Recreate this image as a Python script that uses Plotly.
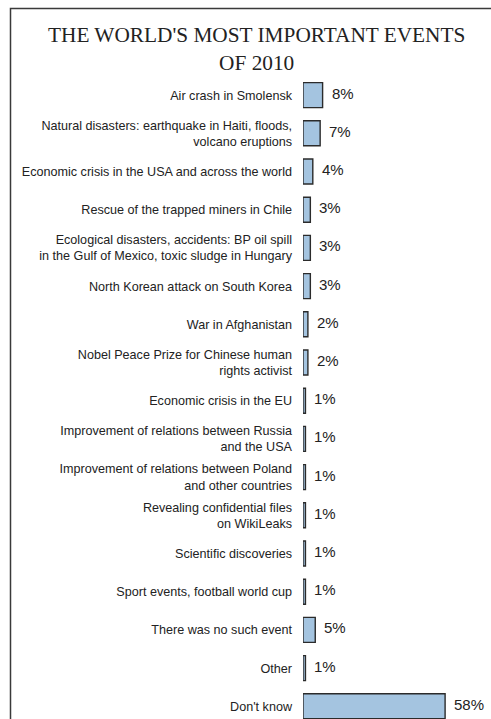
import plotly.graph_objects as go

# Survey answers (top to bottom) and their shares in percent
categories = [
    "Air crash in Smolensk",
    "Natural disasters: earthquake in Haiti, floods,<br>volcano eruptions",
    "Economic crisis in the USA and across the world",
    "Rescue of the trapped miners in Chile",
    "Ecological disasters, accidents: BP oil spill<br>in the Gulf of Mexico, toxic sludge in Hungary",
    "North Korean attack on South Korea",
    "War in Afghanistan",
    "Nobel Peace Prize for Chinese human<br>rights activist",
    "Economic crisis in the EU",
    "Improvement of relations between Russia<br>and the USA",
    "Improvement of relations between Poland<br>and other countries",
    "Revealing confidential files<br>on WikiLeaks",
    "Scientific discoveries",
    "Sport events, football world cup",
    "There was no such event",
    "Other",
    "Don't know",
]
shares = [8, 7, 4, 3, 3, 3, 2, 2, 1, 1, 1, 1, 1, 1, 5, 1, 58]
value_labels = [f"{v}%" for v in shares]

title_text = "THE WORLD'S MOST IMPORTANT EVENTS<br>OF 2010"

W, H = 491, 719
ML, MR, MT, MB = 303, 0, 76, 0
PW, PH = W - ML - MR, H - MT - MB


def px_x(x):
    return (x - ML) / PW


def px_y(y):
    return (H - MB - y) / PH


n = len(categories)
rows_visible = PH / 38.2

fig = go.Figure()
fig.add_trace(go.Bar(
    x=shares,
    y=categories,
    orientation="h",
    width=0.655,
    marker=dict(color="#a4c4e0", line=dict(color="#2b2b2b", width=1.4)),
    hoverinfo="skip",
))

annotations = []
for cat, v, lab in zip(categories, shares, value_labels):
    annotations.append(dict(
        x=v, y=cat, xref="x", yref="y", text=lab, showarrow=False,
        xanchor="left", yanchor="middle", xshift=7, yshift=2,
        font=dict(family="Liberation Sans, Arial", size=15, color="#222"),
    ))

annotations.append(dict(
    x=px_x(256), y=px_y(49), xref="paper", yref="paper",
    text=title_text, showarrow=False, xanchor="center", yanchor="middle",
    font=dict(family="Liberation Serif, Times New Roman", size=21.3, color="#222"),
))

fig.update_layout(
    width=W, height=H,
    margin=dict(l=ML, r=MR, t=MT, b=MB, pad=0),
    paper_bgcolor="white", plot_bgcolor="white",
    showlegend=False,
    annotations=annotations,
    shapes=[dict(
        type="rect", xref="paper", yref="paper",
        x0=px_x(10.5), x1=px_x(W + 20), y0=px_y(8.5), y1=px_y(H + 20),
        line=dict(color="#3a3a3a", width=1.5), fillcolor="rgba(0,0,0,0)",
        layer="below",
    )],
    xaxis=dict(visible=False, range=[0, PW / 2.45]),
    yaxis=dict(
        type="category", categoryorder="array", categoryarray=categories,
        range=[rows_visible - 0.5, -0.5],
        showgrid=False, zeroline=False, showline=False, ticks="",
        ticklabelstandoff=10,
        tickfont=dict(family="Liberation Sans, Arial", size=12.6, color="#222"),
    ),
)

fig.write_html("out.html")
